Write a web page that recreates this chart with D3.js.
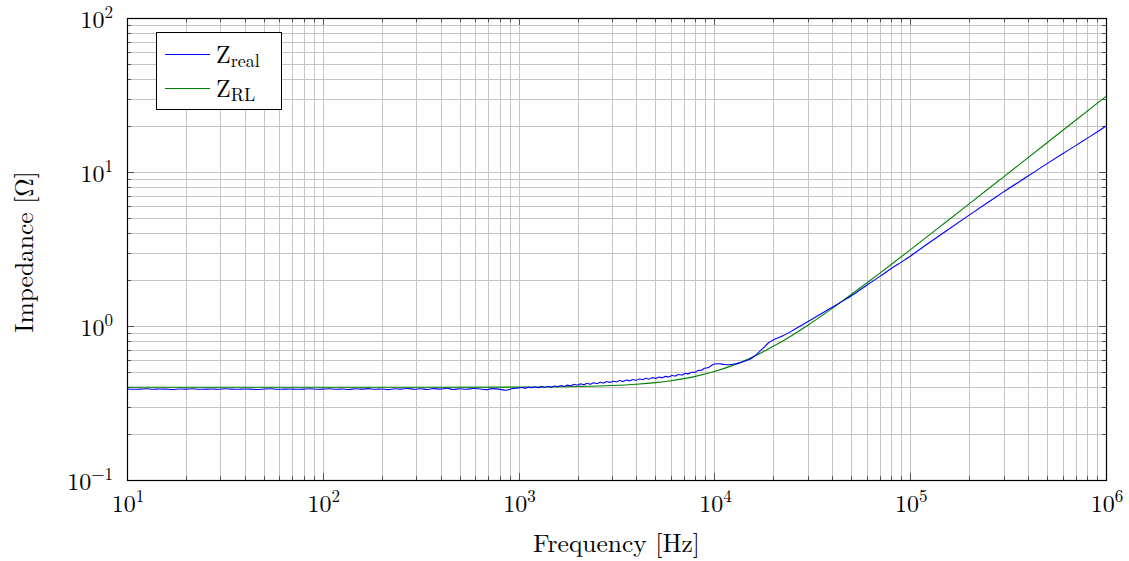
<!DOCTYPE html>
<html>
<head>
<meta charset="utf-8">
<script src="https://cdn.jsdelivr.net/npm/d3@7"></script>
<style>
  html, body { margin: 0; padding: 0; background: #fff; }
</style>
</head>
<body>
<svg id="chart" width="1129" height="561"></svg>
<script>
// Measured impedance |Z| (blue) against frequency
const realFreq = [
  10, 10.8, 11.66, 12.59, 13.59, 14.68, 15.85, 17.11, 18.48, 19.95, 21.54, 23.26, 25.12, 27.12, 29.29,
  31.62, 34.15, 36.87, 39.81, 42.99, 46.42, 50.12, 54.12, 58.43, 63.1, 68.13, 73.56, 79.43, 85.77, 92.61,
  100, 108, 116.6, 125.9, 135.9, 146.8, 158.5, 171.1, 184.8, 199.5, 215.4, 232.6, 251.2, 271.2, 292.9,
  316.2, 341.5, 368.7, 398.1, 429.9, 464.2, 501.2, 541.2, 584.3, 631, 681.3, 735.6, 794.3, 857.7, 926.1,
  1000, 1039, 1080, 1122, 1166, 1212, 1259, 1308, 1359, 1413, 1468, 1525, 1585, 1647, 1711, 1778, 1848, 1920, 1995, 2073,
  2154, 2239, 2326, 2417, 2512, 2610, 2712, 2818, 2929, 3043, 3162, 3286, 3415, 3548, 3687, 3831, 3981, 4137, 4299, 4467,
  4642, 4823, 5012, 5208, 5412, 5623, 5843, 6072, 6310, 6556, 6813, 7079, 7356, 7644, 7943, 8254, 8577, 8913, 9261, 9624,
  10000, 10593, 11220, 11885, 12589, 13335, 14125, 14962, 15849, 16788, 17783, 18836, 19953,
  21135, 22387, 25119, 28184, 31623, 35481, 39811, 44668, 50119, 60000, 70000, 80000, 90000,
  100000, 125000, 150000, 200000, 250000, 300000, 400000, 500000, 600000, 700000, 800000, 900000, 1000000
];
const realZ = [
  0.390, 0.388, 0.389, 0.391, 0.388, 0.390, 0.389, 0.387, 0.390, 0.389, 0.391, 0.388, 0.389, 0.390, 0.388,
  0.391, 0.389, 0.388, 0.390, 0.389, 0.387, 0.390, 0.391, 0.388, 0.389, 0.390, 0.388, 0.389, 0.391, 0.388,
  0.389, 0.391, 0.388, 0.390, 0.387, 0.391, 0.389, 0.392, 0.388, 0.390, 0.386, 0.391, 0.389, 0.393, 0.388,
  0.391, 0.387, 0.392, 0.389, 0.394, 0.387, 0.391, 0.388, 0.393, 0.390, 0.386, 0.392, 0.389, 0.383, 0.391,
  0.396, 0.399, 0.394, 0.401, 0.397, 0.403, 0.398, 0.404, 0.399, 0.406, 0.401, 0.408, 0.404, 0.411, 0.405, 0.413, 0.409, 0.418, 0.414, 0.421,
  0.416, 0.425, 0.419, 0.428, 0.423, 0.431, 0.426, 0.436, 0.430, 0.438, 0.434, 0.443, 0.437, 0.446, 0.441, 0.449, 0.444, 0.453, 0.448, 0.458,
  0.452, 0.462, 0.457, 0.466, 0.462, 0.471, 0.467, 0.477, 0.473, 0.484, 0.481, 0.492, 0.489, 0.501, 0.500, 0.514, 0.516, 0.532, 0.535, 0.552,
  0.566, 0.569, 0.562, 0.560, 0.566, 0.574, 0.588, 0.603, 0.632, 0.672, 0.720, 0.775, 0.812,
  0.838, 0.865, 0.935, 1.02, 1.11, 1.21, 1.32, 1.44, 1.57, 1.84, 2.10, 2.36, 2.60,
  2.84, 3.47, 4.08, 5.25, 6.36, 7.43, 9.42, 11.33, 13.14, 14.84, 16.53, 18.17, 19.88
];

// R-L model impedance (green)
const rlFreq = [
  10, 100, 1000, 2000, 3000, 4000, 5000, 6000, 7000, 8000, 10000, 12500, 15000, 20000, 25000,
  30000, 40000, 50000, 60000, 70000, 80000, 100000, 150000, 200000, 300000, 500000, 700000, 1000000
];
const rlZ = [
  0.400, 0.400, 0.401, 0.405, 0.411, 0.419, 0.429, 0.441, 0.455, 0.471, 0.506, 0.557, 0.613, 0.738, 0.872,
  1.012, 1.302, 1.600, 1.901, 2.205, 2.510, 3.123, 4.664, 6.208, 9.302, 15.49, 21.68, 30.98
];

const xTickValues = [1e1, 1e2, 1e3, 1e4, 1e5, 1e6];
const xTickExp = ["1", "2", "3", "4", "5", "6"];
const yTickValues = [0.1, 1, 10, 100];
const yTickExp = ["\u22121", "0", "1", "2"];

const seriesNames = [["Z", "real"], ["Z", "RL"]];
const seriesColors = ["#0000ff", "#008000"];

const FONT = "'Latin Modern Roman', 'CMU Serif', 'Liberation Serif', serif";

const svg = d3.select("#chart").attr("font-family", FONT);
const plot = { left: 127, right: 1106, top: 18, bottom: 480 };

const x = d3.scaleLog().domain([10, 1e6]).range([plot.left, plot.right]);
const y = d3.scaleLog().domain([0.1, 100]).range([plot.bottom, plot.top]);

// minor positions: 2..9 in each decade
const minorX = [];
for (let d = 1; d <= 5; d++) for (let m = 2; m <= 9; m++) minorX.push(m * Math.pow(10, d));
const minorY = [];
for (let d = -1; d <= 1; d++) for (let m = 2; m <= 9; m++) minorY.push(m * Math.pow(10, d));

const grid = svg.append("g").attr("stroke", "#c4c4c4").attr("stroke-width", 1);
minorX.concat(xTickValues).forEach(v => {
  const px = Math.round(x(v)) + 0.5;
  grid.append("line").attr("x1", px).attr("x2", px).attr("y1", plot.top).attr("y2", plot.bottom);
});
minorY.concat(yTickValues).forEach(v => {
  const py = Math.round(y(v)) + 0.5;
  grid.append("line").attr("x1", plot.left).attr("x2", plot.right).attr("y1", py).attr("y2", py);
});

// tick marks inside on all four sides
const ticks = svg.append("g").attr("stroke", "#333").attr("stroke-width", 0.8);
function tickX(v, len) {
  const px = Math.round(x(v)) + 0.5;
  ticks.append("line").attr("x1", px).attr("x2", px).attr("y1", plot.bottom).attr("y2", plot.bottom - len);
  ticks.append("line").attr("x1", px).attr("x2", px).attr("y1", plot.top).attr("y2", plot.top + len);
}
function tickY(v, len) {
  const py = Math.round(y(v)) + 0.5;
  ticks.append("line").attr("x1", plot.left).attr("x2", plot.left + len).attr("y1", py).attr("y2", py);
  ticks.append("line").attr("x1", plot.right).attr("x2", plot.right - len).attr("y1", py).attr("y2", py);
}
minorX.forEach(v => tickX(v, 4));
xTickValues.forEach(v => tickX(v, 7));
minorY.forEach(v => tickY(v, 4));
yTickValues.forEach(v => tickY(v, 7));

// curves
const line = d3.line().x(d => x(d[0])).y(d => y(d[1])).curve(d3.curveMonotoneX);

const realData = realFreq.map((f, i) => [f, realZ[i]]);
const rlData = rlFreq.map((f, i) => [f, rlZ[i]]);

svg.append("clipPath").attr("id", "clip")
  .append("rect").attr("x", plot.left).attr("y", plot.top)
  .attr("width", plot.right - plot.left).attr("height", plot.bottom - plot.top);

const curves = svg.append("g").attr("clip-path", "url(#clip)");
curves.append("path").datum(rlData)
  .attr("d", line).attr("fill", "none").attr("stroke", seriesColors[1]).attr("stroke-width", 1.1);
curves.append("path").datum(realData)
  .attr("d", line).attr("fill", "none").attr("stroke", seriesColors[0])
  .attr("stroke-width", 1.1).attr("stroke-linejoin", "round");

// frame
svg.append("rect")
  .attr("x", plot.left + 0.5).attr("y", plot.top + 0.5)
  .attr("width", plot.right - plot.left).attr("height", plot.bottom - plot.top)
  .attr("fill", "none").attr("stroke", "#000").attr("stroke-width", 1.2);

// tick labels
xTickValues.forEach((v, i) => {
  const t = svg.append("text")
    .attr("x", x(v) + 1).attr("y", 512)
    .attr("text-anchor", "middle")
    .attr("font-size", 24);
  t.append("tspan").text("10");
  t.append("tspan").attr("dy", -10).attr("font-size", 17).text(xTickExp[i]);
});
yTickValues.forEach((v, i) => {
  const t = svg.append("text")
    .attr("x", 113).attr("y", y(v) + 10)
    .attr("text-anchor", "end")
    .attr("font-size", 24);
  t.append("tspan").text("10");
  t.append("tspan").attr("dy", -10).attr("font-size", 17).text(yTickExp[i]);
});

// axis titles
svg.append("text")
  .attr("x", (plot.left + plot.right) / 2).attr("y", 552)
  .attr("text-anchor", "middle").attr("font-size", 25.5)
  .text("Frequency [Hz]");
svg.append("text")
  .attr("transform", `translate(33,${(plot.top + plot.bottom) / 2 + 3}) rotate(-90)`)
  .attr("text-anchor", "middle").attr("font-size", 25.5)
  .text("Impedance [\u03a9]");

// legend
const legend = svg.append("g");
legend.append("rect")
  .attr("x", 156.5).attr("y", 32.5).attr("width", 125).attr("height", 77)
  .attr("fill", "#fff").attr("stroke", "#000").attr("stroke-width", 1);
seriesNames.forEach((n, i) => {
  const ly = 54.5 + i * 34;
  legend.append("line")
    .attr("x1", 165).attr("x2", 210).attr("y1", ly).attr("y2", ly)
    .attr("stroke", seriesColors[i]).attr("stroke-width", 1.1);
  const t = legend.append("text")
    .attr("x", 216).attr("y", ly + 8).attr("font-size", 24);
  t.append("tspan").text(n[0]);
  t.append("tspan").attr("dy", 4).attr("font-size", 18).text(n[1]);
});
</script>
</body>
</html>
